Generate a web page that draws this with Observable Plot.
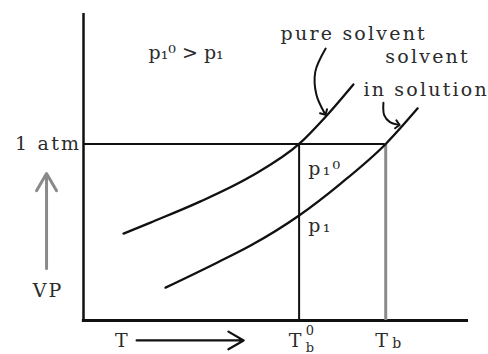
<!DOCTYPE html>
<html>
<head>
<meta charset="utf-8">
<script src="https://cdn.jsdelivr.net/npm/d3@7"></script>
<script src="https://cdn.jsdelivr.net/npm/@observablehq/plot@0.6"></script>
<style>
  html, body { margin: 0; padding: 0; background: #fff; }
</style>
</head>
<body>
<div id="chart"></div>
<script>
// ---- data (T and VP in arbitrary units, 0..100) ----
const atm = 57.5;          // 1 atm level
const boilPure = 56;       // Tb0
const boilSoln = 78.5;     // Tb

const pureT  = [10.4, 17.4, 30.4, 43.4, 56, 62.9, 70.1];
const pureVP = [28.3, 31.9, 38.8, 46.9, 57.5, 66.4, 76.9];

const solnT  = [21.3, 34.8, 43.4, 56, 66.8, 78.5, 86.8];
const solnVP = [10.7, 18.9, 24.4, 34.2, 44.6, 57.5, 69.1];

// pointer arrows for the curve labels
const pureArrowT  = [62.9, 60.2, 60.5, 62.6];
const pureArrowVP = [88.6, 81.0, 73.5, 67.6];
const solnArrowT  = [77.9, 78.1, 79.6, 81.6];
const solnArrowVP = [70.9, 66.9, 64.6, 63.8];

// text labels
const labelText = ["1 atm", "pure solvent", "solvent", "in solution", "p₁⁰", "p₁", "VP", "T"];
const labelT    = [-0.6, 51.2, 78.4, 72.7, 58.4, 58.4, -9.2, 10.1];
const labelVP   = [57.5, 93.2, 85.7, 75.2, 49.5, 30.9, 9.8, -6.5];
const labelAnchor = ["end", "start", "start", "start", "start", "start", "middle", "middle"];
const relationText = "p₁⁰ > p₁";
const relationT = 16.9, relationVP = 87.3;

// ---- tables ----
const pure = pureT.map((t, i) => ({T: t, VP: pureVP[i]}));
const soln = solnT.map((t, i) => ({T: t, VP: solnVP[i]}));
const pureArrow = pureArrowT.map((t, i) => ({T: t, VP: pureArrowVP[i]}));
const solnArrow = solnArrowT.map((t, i) => ({T: t, VP: solnArrowVP[i]}));
const labels = labelText.map((s, i) => ({s, T: labelT[i], VP: labelVP[i], a: labelAnchor[i]}));

const ink = "#111";
const txt = "#2b2b2b";
const font = "DejaVu Serif";

const chart = Plot.plot({
  width: 488,
  height: 354,
  marginLeft: 83,
  marginRight: 20,
  marginTop: 13,
  marginBottom: 34,
  x: {domain: [0, 100], axis: null},
  y: {domain: [0, 100], axis: null},
  style: {background: "#fff", fontFamily: font, letterSpacing: "2.2px", overflow: "visible"},
  marks: [
    // axes
    Plot.ruleX([0], {y1: 0, y2: 100, stroke: ink, strokeWidth: 2.5}),
    Plot.ruleY([0], {x1: -0.3, x2: 100, stroke: ink, strokeWidth: 3}),
    // 1 atm line and boiling point drops
    Plot.ruleY([atm], {x1: 0, x2: boilSoln, stroke: ink, strokeWidth: 2}),
    Plot.ruleX([boilPure], {y1: 0, y2: atm, stroke: ink, strokeWidth: 2}),
    Plot.ruleX([boilSoln], {y1: 0, y2: atm, stroke: "#8a8a8a", strokeWidth: 3}),
    // vapour pressure curves
    Plot.line(pure, {x: "T", y: "VP", curve: "monotone-x", stroke: ink, strokeWidth: 2.3}),
    Plot.line(soln, {x: "T", y: "VP", curve: "monotone-x", stroke: ink, strokeWidth: 2.3}),
    // pointer arrows
    Plot.line(pureArrow, {x: "T", y: "VP", curve: "catmull-rom", stroke: ink, strokeWidth: 2, markerEnd: "arrow"}),
    Plot.line(solnArrow, {x: "T", y: "VP", curve: "catmull-rom", stroke: ink, strokeWidth: 2, markerEnd: "arrow"}),
    // axis direction arrows
    Plot.arrow([{x1: -9.6, y1: 16.9, x2: -9.6, y2: 47.9}], {x1: "x1", y1: "y1", x2: "x2", y2: "y2", stroke: "#8a8a8a", strokeWidth: 3, headLength: 10}),
    Plot.arrow([{x1: 13.8, y1: -6.5, x2: 41.6, y2: -6.5}], {x1: "x1", y1: "y1", x2: "x2", y2: "y2", stroke: ink, strokeWidth: 2.2, headLength: 12}),
    // labels
    Plot.text(labels, {x: "T", y: "VP", text: "s", textAnchor: "start", filter: d => d.a === "start", fill: txt, fontSize: 19, fontFamily: font}),
    Plot.text(labels, {x: "T", y: "VP", text: "s", textAnchor: "end", filter: d => d.a === "end", fill: txt, fontSize: 19, fontFamily: font}),
    Plot.text(labels, {x: "T", y: "VP", text: "s", textAnchor: "middle", filter: d => d.a === "middle", fill: txt, fontSize: 19, fontFamily: font}),
    Plot.text([relationText], {x: relationT, y: relationVP, text: d => d, textAnchor: "start", fill: txt, fontSize: 19, fontFamily: font, render: (i, s, v, d, c, next) => { const g = next(i, s, v, d, c); g.setAttribute("letter-spacing", "0"); g.style.letterSpacing = "0px"; return g; }}),
    // boiling point tick labels (T with sub/superscripts)
    Plot.text([boilPure, boilSoln], {x: d => d, y: -6.5, text: () => "T", dx: -3, fill: txt, fontSize: 19, fontFamily: font}),
    Plot.text([boilPure], {x: d => d, y: -6.5, text: () => "0", dx: 12, dy: -10, fill: txt, fontSize: 13, fontFamily: font}),
    Plot.text([boilPure], {x: d => d, y: -6.5, text: () => "b", dx: 12, dy: 7, fill: txt, fontSize: 13, fontFamily: font}),
    Plot.text([boilSoln], {x: d => d, y: -6.5, text: () => "b", dx: 12, dy: 3, fill: txt, fontSize: 14, fontFamily: font})
  ]
});

document.getElementById("chart").appendChild(chart);
</script>
</body>
</html>
